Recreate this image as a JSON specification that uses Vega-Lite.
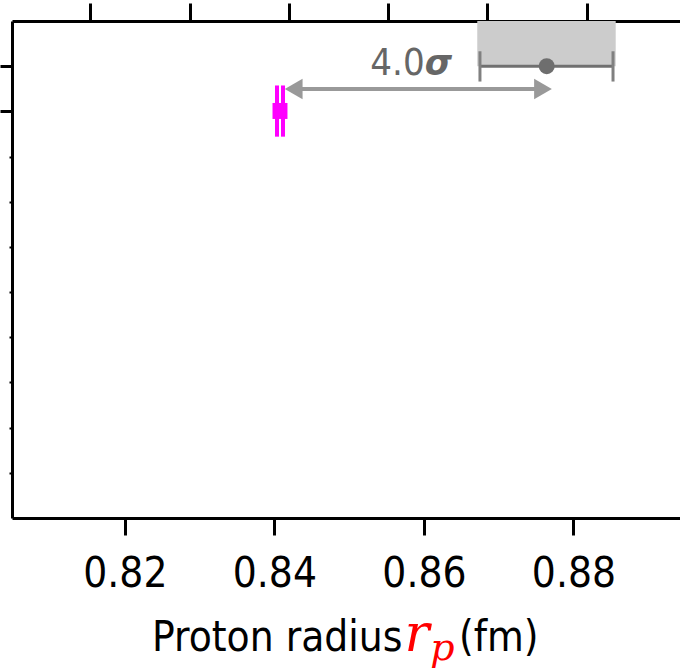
{
  "$schema": "https://vega.github.io/schema/vega-lite/v6.json",
  "autosize": {"type": "none"},
  "padding": {"left": 12, "top": 21, "right": 0, "bottom": 150},
  "width": 668,
  "height": 497,
  "config": {"view": {"stroke": null}, "axis": {"grid": false}},
  "datasets": {
    "band": [{"lo": 0.86714, "hi": 0.88566, "top": 0, "bottom": 1.0}],
    "errbar": [{"lo": 0.8675, "hi": 0.8853, "row": 1}],
    "caps": [{"x": 0.8675, "y1": 0.67, "y2": 1.34}, {"x": 0.8853, "y1": 0.67, "y2": 1.34}],
    "dot": [{"x": 0.87643, "row": 1}],
    "arrow": [{"from": 0.84258, "to": 0.87593, "row": 1.504}],
    "heads": [{"x": 0.84258, "row": 1.504, "dir": "left"}, {"x": 0.87593, "row": 1.504, "dir": "right"}],
    "pinklines": [{"x": 0.84035, "y1": 1.427, "y2": 2.56}, {"x": 0.84115, "y1": 1.427, "y2": 2.56}],
    "pinkbox": [{"x1": 0.83975, "x2": 0.84175, "y1": 1.814, "y2": 2.168}],
    "sig": [{"x": 0.8601, "row": 1.204, "num": "4.0", "sym": "σ"}],
    "title": [
      {"x": 0.82363, "row": 13.95, "t": "Proton radius"},
      {"x": 0.86470, "row": 13.95, "t": "(fm)"}
    ],
    "rvar": [{"x": 0.85741, "row": 13.95, "t": "r"}],
    "pvar": [{"x": 0.86085, "row": 14.15, "t": "p"}]
  },
  "resolve": {"axis": {"x": "independent", "y": "independent"}},
  "layer": [
    {
      "data": {"name": "band"},
      "mark": {"type": "rect", "color": "#cccccc"},
      "encoding": {
        "x": {"field": "lo", "type": "quantitative",
              "scale": {"domain": [0.8049, 0.89426], "nice": false, "zero": false},
              "axis": {"orient": "bottom", "values": [0.82, 0.84, 0.86, 0.88], "format": ".2f", "title": null,
                       "domainColor": "black", "domainWidth": 3, "tickColor": "black", "tickWidth": 3, "tickSize": 17,
                       "labelFont": "DejaVu Sans Condensed, Liberation Sans Narrow, sans-serif", "labelFontSize": 42,
                       "labelPadding": 18, "labelColor": "black", "labelFlush": false, "labelOverlap": false, "grid": false}},
        "x2": {"field": "hi"},
        "y": {"field": "top", "type": "quantitative",
              "scale": {"domain": [0, 11], "nice": false, "zero": false, "reverse": true},
              "axis": {"orient": "left", "values": [1, 2], "labels": false, "title": null,
                       "domainColor": "black", "domainWidth": 3, "tickColor": "black", "tickWidth": 3, "tickSize": 12, "grid": false}},
        "y2": {"field": "bottom"}
      }
    },
    {
      "data": {"name": "errbar"},
      "mark": {"type": "rule", "color": "#707070", "strokeWidth": 3},
      "encoding": {
        "x": {"field": "lo", "type": "quantitative",
              "scale": {"domain": [0.8049, 0.89426], "nice": false, "zero": false},
              "axis": {"orient": "top", "values": [0.81533, 0.82871, 0.84195, 0.8552, 0.86844, 0.88182], "labels": false, "title": null,
                       "domainColor": "black", "domainWidth": 3, "tickColor": "black", "tickWidth": 3, "tickSize": 18, "grid": false}},
        "x2": {"field": "hi"},
        "y": {"field": "row", "type": "quantitative",
              "scale": {"domain": [0, 11], "nice": false, "zero": false, "reverse": true},
              "axis": {"orient": "left", "values": [3, 4, 5, 6, 7, 8, 9, 10], "labels": false, "title": null,
                       "domain": false, "tickColor": "black", "tickWidth": 2, "tickSize": 3, "grid": false}}
      }
    },
    {
      "data": {"name": "caps"},
      "mark": {"type": "rule", "color": "#808080", "strokeWidth": 3},
      "encoding": {
        "x": {"field": "x", "type": "quantitative", "axis": null},
        "y": {"field": "y1", "type": "quantitative", "axis": null},
        "y2": {"field": "y2"}
      }
    },
    {
      "data": {"name": "dot"},
      "mark": {"type": "point", "shape": "circle", "filled": true, "color": "#6e6e6e", "opacity": 1, "size": 256},
      "encoding": {
        "x": {"field": "x", "type": "quantitative", "axis": null},
        "y": {"field": "row", "type": "quantitative", "axis": null}
      }
    },
    {
      "data": {"name": "arrow"},
      "mark": {"type": "rule", "color": "#999999", "strokeWidth": 4},
      "encoding": {
        "x": {"field": "from", "type": "quantitative", "axis": null},
        "x2": {"field": "to"},
        "y": {"field": "row", "type": "quantitative", "axis": null}
      }
    },
    {
      "data": {"name": "heads"},
      "mark": {"type": "point", "filled": true, "color": "#999999", "opacity": 1, "size": 420},
      "encoding": {
        "x": {"field": "x", "type": "quantitative", "axis": null},
        "y": {"field": "row", "type": "quantitative", "axis": null},
        "shape": {"field": "dir", "type": "nominal", "legend": null,
                  "scale": {"domain": ["left", "right"], "range": ["triangle-left", "triangle-right"]}}
      }
    },
    {
      "data": {"name": "pinklines"},
      "mark": {"type": "rule", "color": "#ff00ff", "strokeWidth": 4},
      "encoding": {
        "x": {"field": "x", "type": "quantitative", "axis": null},
        "y": {"field": "y1", "type": "quantitative", "axis": null},
        "y2": {"field": "y2"}
      }
    },
    {
      "data": {"name": "pinkbox"},
      "mark": {"type": "rect", "color": "#ff00ff"},
      "encoding": {
        "x": {"field": "x1", "type": "quantitative", "axis": null},
        "x2": {"field": "x2"},
        "y": {"field": "y1", "type": "quantitative", "axis": null},
        "y2": {"field": "y2"}
      }
    },
    {
      "data": {"name": "sig"},
      "mark": {"type": "text", "align": "right", "baseline": "alphabetic", "color": "#666666",
               "font": "DejaVu Sans Condensed, Liberation Sans Narrow, sans-serif", "fontSize": 38},
      "encoding": {
        "x": {"field": "x", "type": "quantitative", "axis": null},
        "y": {"field": "row", "type": "quantitative", "axis": null},
        "text": {"field": "num"}
      }
    },
    {
      "data": {"name": "sig"},
      "mark": {"type": "text", "align": "left", "baseline": "alphabetic", "color": "#666666",
               "font": "DejaVu Sans, sans-serif", "fontSize": 35, "fontWeight": "bold", "fontStyle": "italic"},
      "encoding": {
        "x": {"field": "x", "type": "quantitative", "axis": null},
        "y": {"field": "row", "type": "quantitative", "axis": null},
        "text": {"field": "sym"}
      }
    },
    {
      "data": {"name": "title"},
      "mark": {"type": "text", "align": "left", "baseline": "alphabetic", "color": "black",
               "font": "DejaVu Sans Condensed, Liberation Sans Narrow, sans-serif", "fontSize": 42},
      "encoding": {
        "x": {"field": "x", "type": "quantitative", "axis": null},
        "y": {"field": "row", "type": "quantitative", "axis": null},
        "text": {"field": "t"}
      }
    },
    {
      "data": {"name": "rvar"},
      "mark": {"type": "text", "align": "left", "baseline": "alphabetic", "color": "#ff0000",
               "font": "DejaVu Serif, serif", "fontSize": 52, "fontStyle": "italic"},
      "encoding": {
        "x": {"field": "x", "type": "quantitative", "axis": null},
        "y": {"field": "row", "type": "quantitative", "axis": null},
        "text": {"field": "t"}
      }
    },
    {
      "data": {"name": "pvar"},
      "mark": {"type": "text", "align": "left", "baseline": "alphabetic", "color": "#ff0000",
               "font": "DejaVu Serif, serif", "fontSize": 38, "fontStyle": "italic"},
      "encoding": {
        "x": {"field": "x", "type": "quantitative", "axis": null},
        "y": {"field": "row", "type": "quantitative", "axis": null},
        "text": {"field": "t"}
      }
    }
  ]
}
